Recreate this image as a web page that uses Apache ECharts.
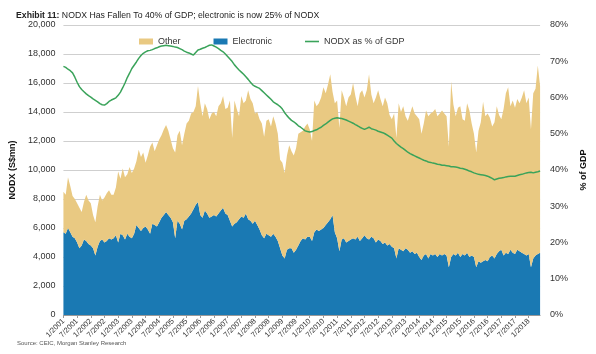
<!DOCTYPE html>
<html>
<head>
<meta charset="utf-8">
<script src="https://cdn.jsdelivr.net/npm/echarts@6/dist/echarts.min.js"></script>
<style>
  html, body { margin: 0; padding: 0; background: #fff; }
  #main { width: 596px; height: 354px; }
</style>
</head>
<body>
<div id="main"></div>
<script>
// monthly, Jan 2001 - Jun 2018
var firstYear = 2001;
var lastYear = 2018;
var lastMonth = 6;

var totalNodx = [
  8500, 8300, 9500, 8900, 8200, 8000, 7700, 7400, 7100, 7800, 8300, 7900,
  7700, 6900, 6400, 7500, 8300, 7900, 8100, 8400, 8600, 8300, 8300, 8800,
  9900, 9400, 10100, 9500, 9700, 10200, 9800, 10100, 10600, 11400, 10900, 11200,
  10500, 11000, 11600, 11900, 11300, 11700, 12100, 12400, 12800, 13100, 12700, 12100,
  11500, 11200, 12400, 12700, 11700, 12500, 13200, 13400, 13900, 14000, 14400, 15800,
  14600, 13700, 14600, 14200, 13500, 13900, 14000, 13700, 14400, 14600, 15100, 14200,
  14300, 14800, 12200, 14800, 14200, 13700, 15100, 14600, 14800, 15500, 14900, 14600,
  13900, 14000, 13500, 13200, 12300, 13400, 13500, 13000, 13700, 13200, 12500, 10700,
  10500, 9800, 11000, 11700, 11300, 11000, 11500, 12500, 12600, 12700, 13000, 13200,
  12800, 12000, 14800, 14400, 14600, 15000, 15700, 15300, 15900, 16600, 15400, 14600,
  14800, 12900, 15500, 15000, 14400, 15000, 15200, 16000, 15100, 14400, 15300, 15500,
  15000, 15500, 16600, 15200, 14600, 15000, 15500, 14900, 14400, 15000, 14600, 13800,
  13500, 13900, 12200, 14600, 14000, 14400, 13700, 13400, 13900, 14400, 13900, 13700,
  13500, 12500, 13200, 14100, 13700, 13900, 14000, 14200, 13700, 13900, 14100, 13900,
  13700, 11600, 16100, 14500, 13700, 14300, 14400, 13500, 13400, 14600, 14100, 13200,
  12500, 11200, 12700, 13300, 14700, 13700, 13900, 13600, 13000, 13300, 14400, 13800,
  13500, 14200, 15300, 15700, 14400, 14800, 14300, 14900, 14600, 15000, 15500, 14600,
  15000, 12800, 15300, 15600, 17200, 15800
];

// electronic NODX (S$mn)
var electronic = [
  5700, 5600, 6000, 5700, 5400, 5300, 5000, 4600, 4800, 5200, 5100, 4900,
  4800, 4600, 4100, 4700, 5100, 5200, 5000, 5100, 5300, 5200, 5300, 5500,
  5000, 5600, 5500, 5200, 5600, 5400, 5300, 5600, 6200, 6000, 5800, 6000,
  6100, 5900, 5600, 6300, 6200, 6100, 6400, 6700, 6900, 7100, 6900, 6700,
  6400, 5300, 6500, 6300, 5900, 6500, 6600, 6800, 7000, 7300, 7600, 7800,
  6900, 6700, 7200, 7000, 6700, 6800, 6900, 6800, 7000, 7200, 7400, 7000,
  6900, 6500, 6100, 6300, 6400, 6600, 6800, 6700, 7000, 6600, 6500, 6300,
  6500, 6200, 5900, 5500, 5300, 5600, 5500, 5400, 5600, 5400, 5100, 4600,
  4100, 3900, 4500, 4600, 4600, 4300, 4500, 4800, 5100, 5300, 5200, 5400,
  5400, 5100, 5700, 5900, 5800, 5900, 6000, 6200, 6400, 6600, 6900, 5700,
  5300, 4400, 5200, 5300, 5000, 5100, 5200, 5300, 5200, 5400, 5100, 5300,
  5500, 5300, 5200, 5400, 5300, 5000, 5200, 5100, 4900, 5000, 4800, 4900,
  4700, 4600, 3900, 4600, 4500, 4400, 4600, 4500, 4300, 4400, 4200, 4300,
  4000, 3800, 4100, 4200, 3900, 4200, 4100, 4200, 4000, 4200, 4100, 4200,
  4100, 3300, 4000, 4200, 4100, 4300, 4000, 4200, 4100, 4300, 4000, 4100,
  4000, 3300, 3700, 3600, 3700, 3800, 3700, 4000, 4100, 3900, 4200, 4400,
  4500, 4100, 4300, 4200, 4500, 4300, 4200, 4500, 4400, 4300, 4200, 4100,
  4200, 3300, 3900, 4100, 4200, 4300
];

// NODX as % of GDP
var nodxGdp = [
  68.6, 68.3, 67.8, 67.4, 66.8, 65.6, 64.2, 63.0, 62.2, 61.6, 61.0, 60.5,
  60.1, 59.6, 59.2, 58.8, 58.3, 58.0, 57.9, 58.3, 58.9, 59.3, 59.6, 59.9,
  60.6, 61.5, 62.7, 64.0, 65.5, 66.7, 68.0, 68.9, 69.8, 70.8, 71.6, 72.2,
  72.6, 72.9, 73.0, 73.2, 73.5, 73.7, 74.0, 74.2, 74.3, 74.4, 74.3, 74.2,
  74.1, 73.9, 73.8, 73.5, 73.2, 72.8, 72.5, 72.3, 72.0, 71.7, 72.4, 73.1,
  73.3, 73.6, 73.8, 74.1, 74.4, 74.5, 74.2, 73.9, 73.5, 73.0, 72.6, 72.0,
  71.3, 70.6, 69.9, 69.0, 68.3, 67.6, 67.0, 66.4, 65.7, 65.0, 64.2, 63.5,
  63.1, 62.8, 62.5, 61.9, 61.3, 60.7, 60.1, 59.5, 58.8, 58.4, 58.0, 57.5,
  56.8, 55.8, 55.0, 54.3, 53.7, 53.3, 52.8, 52.2, 51.8, 51.3, 50.8, 50.6,
  50.5, 50.6, 50.9, 51.1, 51.5, 51.8, 52.3, 52.7, 53.2, 53.7, 54.1, 54.3,
  54.4, 54.3, 54.2, 54.0, 53.8, 53.5, 53.2, 52.9, 52.5, 52.2, 51.8, 51.5,
  51.2, 51.5, 51.8, 51.4, 51.2, 51.0, 50.7, 50.5, 50.3, 50.0, 49.6, 49.2,
  48.8, 48.0, 47.3, 46.8, 46.3, 45.9, 45.4, 44.9, 44.5, 44.2, 43.9, 43.6,
  43.3, 43.0, 42.7, 42.5, 42.2, 42.1, 41.9, 41.8, 41.6, 41.5, 41.3, 41.3,
  41.2, 41.1, 40.9, 40.9, 40.8, 40.7, 40.5, 40.4, 40.2, 40.0, 39.7, 39.5,
  39.2, 39.0, 38.8, 38.7, 38.6, 38.5, 38.3, 38.0, 37.7, 37.3, 37.5, 37.7,
  37.8, 37.9, 38.1, 38.2, 38.3, 38.3, 38.3, 38.5, 38.7, 38.8, 39.0, 39.2,
  39.3, 39.4, 39.2, 39.4, 39.5, 39.7
];

var months = [];
for (var y = firstYear; y <= lastYear; y++) {
  for (var m = 1; m <= 12; m++) {
    if (y === lastYear && m > lastMonth) break;
    months.push(m + '/' + y);
  }
}

// stacked on top of electronic
var other = totalNodx.map(function (v, i) { return v - electronic[i]; });

var chart = echarts.init(document.getElementById('main'), null, { renderer: 'canvas' });

var font = "'Liberation Sans', Arial, sans-serif";

var option = {
  backgroundColor: '#fff',
  animation: false,
  textStyle: { fontFamily: font },
  title: [{
    left: 11,
    top: 6,
    text: '{b|Exhibit 11:} NODX Has Fallen To 40% of GDP; electronic is now 25% of NODX',
    textStyle: {
      fontSize: 8.7, fontWeight: 'normal', color: '#222', fontFamily: font,
      rich: { b: { fontSize: 8.7, fontWeight: 'bold', color: '#222', fontFamily: font } }
    }
  }, {
    left: 12,
    top: 335,
    text: 'Source: CEIC, Morgan Stanley Research',
    textStyle: { fontSize: 6, fontWeight: 'normal', color: '#555', fontFamily: font }
  }],
  legend: {
    left: 134,
    top: 32,
    itemGap: 33,
    itemWidth: 14,
    itemHeight: 6,
    textStyle: { fontSize: 9, color: '#333', fontFamily: font },
    data: [
      { name: 'Other', icon: 'rect' },
      { name: 'Electronic', icon: 'rect' },
      { name: 'NODX as % of GDP', icon: 'path://M0 0H14V1.6H0Z' }
    ]
  },
  grid: { left: 60, right: 51, top: 25, bottom: 39 },
  xAxis: {
    type: 'category',
    boundaryGap: false,
    data: months,
    axisLine: { lineStyle: { color: '#999' } },
    axisTick: { interval: 5, length: 3, lineStyle: { color: '#999' } },
    axisLabel: { interval: 5, rotate: 45, fontSize: 7.5, color: '#333', margin: 5 }
  },
  yAxis: [{
    type: 'value',
    min: 0,
    max: 20000,
    interval: 2000,
    name: 'NODX (S$mn)',
    nameLocation: 'middle',
    nameRotate: 90,
    nameGap: 38,
    nameTextStyle: { fontSize: 9, fontWeight: 'bold', color: '#111' },
    axisLine: { show: false },
    axisTick: { show: false },
    axisLabel: {
      fontSize: 9, color: '#333', margin: 8,
      formatter: function (v) { return v.toLocaleString('en-US'); }
    },
    splitLine: { lineStyle: { color: '#cfcfcf', width: 1 } }
  }, {
    type: 'value',
    min: 0,
    max: 80,
    interval: 10,
    position: 'right',
    name: '% of GDP',
    nameLocation: 'middle',
    nameRotate: 90,
    nameGap: 38,
    nameTextStyle: { fontSize: 9, fontWeight: 'bold', color: '#111' },
    axisLine: { show: false },
    axisTick: { show: false },
    axisLabel: { fontSize: 9, color: '#333', margin: 10, formatter: '{value}%' },
    splitLine: { show: false }
  }],
  series: [{
    name: 'Electronic',
    type: 'line',
    stack: 'nodx',
    data: electronic,
    symbol: 'none',
    color: '#1a79b3',
    lineStyle: { width: 0 },
    areaStyle: { color: '#1a79b3', opacity: 1 },
    z: 2
  }, {
    name: 'Other',
    type: 'line',
    stack: 'nodx',
    data: other,
    symbol: 'none',
    color: '#e9c982',
    lineStyle: { width: 0 },
    areaStyle: { color: '#e9c982', opacity: 1 },
    z: 2
  }, {
    name: 'NODX as % of GDP',
    type: 'line',
    yAxisIndex: 1,
    data: nodxGdp,
    symbol: 'none',
    color: '#3aa35a',
    lineStyle: { width: 1.5, color: '#3aa35a' },
    z: 3
  }]
};

chart.setOption(option);
</script>
</body>
</html>
